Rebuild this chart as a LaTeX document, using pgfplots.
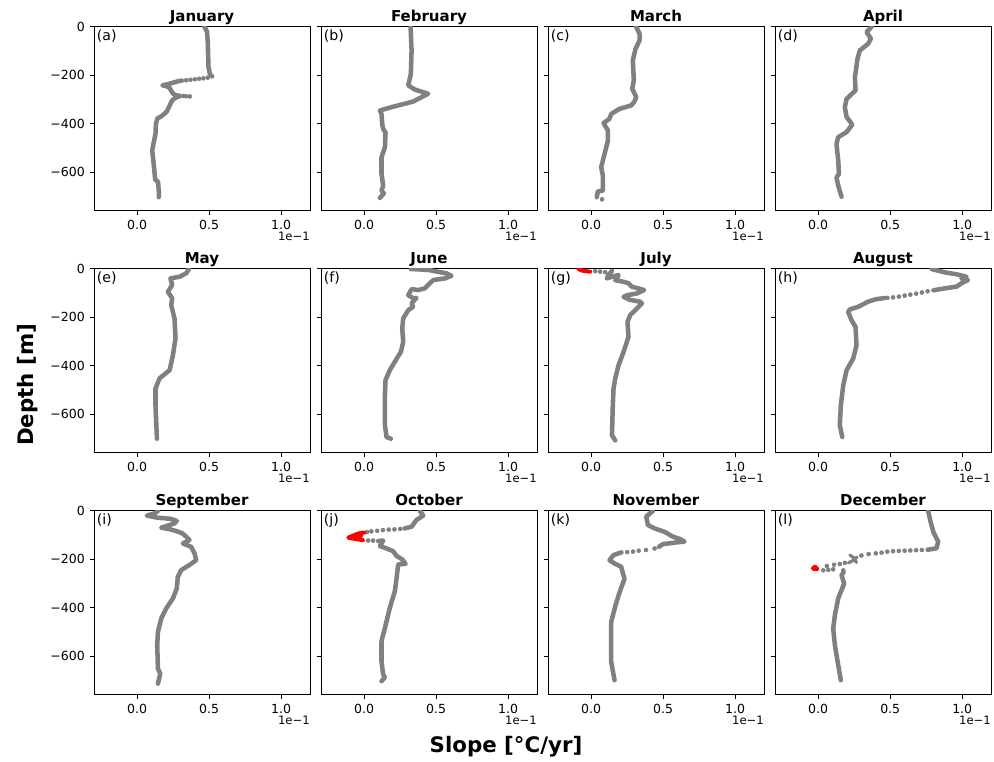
\documentclass[border=0pt]{standalone}
\usepackage{fontspec}
\setmainfont{DejaVu Sans}
\usepackage{pgfplots}
\pgfplotsset{compat=1.18}
\definecolor{mygray}{RGB}{128,128,128}
\pgfplotsset{
  panel/.style={
    scale only axis, width=162pt, height=138pt,
    anchor=north west,
    xmin=-0.3, xmax=1.2, ymin=-760, ymax=0,
    xtick={0,0.5,1}, xticklabels={0.0,0.5,1.0},
    ytick={0,-200,-400,-600},
    yticklabels={0,−200,−400,−600},
    tick align=outside, tick pos=left,
    major tick length=3.3pt,
    every tick/.style={black, line width=0.75pt},
    axis line style={line width=0.75pt},
    tick label style={font=\fontsize{9.4}{11}\selectfont},
    title style={at={(0.5,1)}, anchor=base, yshift=-2.2pt, font=\bfseries\fontsize{11.25}{13}\selectfont},
    clip mode=individual,
  },
  noyl/.style={yticklabels={}},
  plabel/.style={extra description/.code={
    \node[anchor=north west, inner sep=0pt, font=\fontsize{10.6}{12}\selectfont] at (0.012,0.988) {#1};
    \node[anchor=base east, inner sep=0pt, font=\fontsize{8.7}{10}\selectfont] at (1,-0.163) {1e−1};
  }},
  prof/.style={color=mygray, line width=3.4pt, line join=round, line cap=round, mark=none},
  sparse/.style={color=mygray, only marks, mark=*, mark size=1.5pt},
  redp/.style={color=red, line width=3pt, line join=round, line cap=round, mark=none},
}
\begin{document}
\begin{tikzpicture}
\path[use as bounding box] (0,0) rectangle (745.5pt,571.5pt);
% ---------- Row 1 ----------
\begin{axis}[panel, at={(70.5pt,551.25pt)}, title={January}, plabel={(a)}]
\addplot[prof] coordinates {(0.468,0) (0.485,-20) (0.49,-60) (0.495,-165) (0.505,-195) (0.52,-204)};
\addplot[sparse] coordinates {(0.49,-209) (0.46,-212) (0.43,-214) (0.40,-216) (0.37,-218) (0.34,-220) (0.31,-222)};
\addplot[prof] coordinates {(0.30,-222) (0.26,-228) (0.22,-235) (0.175,-241) (0.20,-244) (0.225,-251) (0.235,-262) (0.25,-276) (0.27,-282) (0.30,-285) (0.28,-289) (0.265,-293) (0.243,-303) (0.225,-325) (0.205,-350) (0.17,-368) (0.14,-378) (0.13,-400) (0.127,-441) (0.113,-483) (0.104,-510) (0.11,-540) (0.12,-600) (0.125,-630) (0.145,-640) (0.15,-680) (0.15,-703)};
\addplot[sparse] coordinates {(0.32,-285) (0.34,-286) (0.365,-287)};
\end{axis}
\begin{axis}[panel, noyl, at={(240.75pt,551.25pt)}, title={February}, plabel={(b)}]
\addplot[prof] coordinates {(0.322,0) (0.329,-97) (0.324,-193) (0.306,-241) (0.35,-258) (0.387,-265) (0.444,-276) (0.42,-283) (0.398,-290) (0.34,-308) (0.282,-317) (0.19,-331) (0.109,-345) (0.12,-359) (0.125,-400) (0.132,-421) (0.148,-436) (0.144,-497) (0.12,-538) (0.12,-607) (0.132,-655) (0.12,-676) (0.137,-687) (0.109,-706)};
\end{axis}
\begin{axis}[panel, noyl, at={(411pt,551.25pt)}, title={March}, plabel={(c)}]
\addplot[prof] coordinates {(0.313,0) (0.336,-28) (0.336,-55) (0.308,-90) (0.289,-138) (0.296,-221) (0.285,-255) (0.313,-290) (0.30,-308) (0.278,-324) (0.197,-338) (0.139,-359) (0.127,-379) (0.086,-397) (0.116,-428) (0.116,-469) (0.093,-524) (0.069,-579) (0.081,-614) (0.081,-676) (0.046,-679) (0.039,-703)};
\addplot[sparse] coordinates {(0.076,-712)};
\end{axis}
\begin{axis}[panel, noyl, at={(581.25pt,551.25pt)}, title={April}, plabel={(d)}]
\addplot[prof] coordinates {(0.37,0) (0.336,-21) (0.366,-48) (0.347,-69) (0.289,-97) (0.273,-131) (0.255,-207) (0.259,-262) (0.197,-297) (0.185,-331) (0.197,-372) (0.236,-403) (0.197,-434) (0.139,-455) (0.127,-483) (0.139,-552) (0.144,-607) (0.127,-621) (0.139,-655) (0.162,-701)};
\end{axis}
% ---------- Row 2 ----------
\begin{axis}[panel, at={(70.5pt,369.75pt)}, title={May}, plabel={(e)}]
\addplot[prof] coordinates {(0.359,0) (0.34,-18) (0.294,-32) (0.231,-39) (0.243,-66) (0.213,-94) (0.243,-121) (0.236,-149) (0.259,-204) (0.266,-287) (0.248,-356) (0.225,-418) (0.155,-452) (0.127,-494) (0.127,-563) (0.137,-701)};
\end{axis}
\begin{axis}[panel, noyl, at={(240.75pt,369.75pt)}, title={June}, plabel={(f)}]
\addplot[prof] coordinates {(0.324,0) (0.444,-4) (0.572,-18) (0.606,-28) (0.56,-39) (0.50,-44) (0.479,-46) (0.456,-59) (0.421,-80) (0.375,-87) (0.329,-83) (0.306,-108) (0.34,-121) (0.363,-119) (0.329,-142) (0.34,-156) (0.306,-170) (0.271,-204) (0.264,-245) (0.271,-301) (0.255,-342) (0.213,-383) (0.178,-418) (0.148,-459) (0.144,-521) (0.144,-645) (0.155,-694) (0.185,-701)};
\end{axis}
\begin{axis}[panel, noyl, at={(411pt,369.75pt)}, title={July}, plabel={(g)}]
\addplot[sparse] coordinates {(0.028,-9) (0.062,-11) (0.097,-13)};
\addplot[prof] coordinates {(0.144,-8) (0.12,-25) (0.109,-39) (0.144,-32) (0.19,-25) (0.178,-39) (0.167,-46) (0.225,-53) (0.259,-59) (0.282,-73) (0.368,-87) (0.317,-101) (0.252,-108) (0.225,-115) (0.271,-128) (0.34,-135) (0.352,-142) (0.306,-170) (0.271,-190) (0.252,-218) (0.259,-280) (0.225,-342) (0.19,-397) (0.167,-452) (0.155,-494) (0.15,-563) (0.144,-687) (0.167,-708)};
\addplot[redp] coordinates {(-0.088,0) (-0.07,-5) (-0.053,-8) (-0.007,-11)};
\end{axis}
\begin{axis}[panel, noyl, at={(581.25pt,369.75pt)}, title={August}, plabel={(h)}]
\addplot[prof] coordinates {(0.787,0) (0.88,-14) (0.96,-22) (1.03,-32) (0.995,-39) (1.04,-46) (0.995,-59) (0.96,-73) (0.88,-80) (0.80,-88)};
\addplot[sparse] coordinates {(0.76,-92) (0.72,-97) (0.68,-102) (0.64,-106) (0.60,-110) (0.56,-114) (0.52,-117) (0.48,-119)};
\addplot[prof] coordinates {(0.46,-120) (0.40,-125) (0.347,-135) (0.278,-156) (0.22,-167) (0.208,-177) (0.231,-211) (0.259,-239) (0.266,-315) (0.243,-370) (0.197,-418) (0.174,-480) (0.157,-563) (0.15,-645) (0.167,-694)};
\end{axis}
% ---------- Row 3 ----------
\begin{axis}[panel, at={(70.5pt,188.25pt)}, title={September}, plabel={(i)}]
\addplot[prof] coordinates {(0.144,0) (0.12,-10) (0.067,-19) (0.144,-28) (0.19,-30) (0.236,-33) (0.275,-41) (0.259,-51) (0.225,-58) (0.167,-69) (0.225,-75) (0.271,-83) (0.313,-92) (0.34,-106) (0.363,-120) (0.317,-134) (0.375,-148) (0.398,-175) (0.41,-203) (0.363,-223) (0.306,-244) (0.282,-272) (0.275,-320) (0.248,-361) (0.201,-403) (0.167,-444) (0.144,-499) (0.139,-554) (0.144,-651) (0.16,-672) (0.144,-713)};
\end{axis}
\begin{axis}[panel, noyl, at={(240.75pt,188.25pt)}, title={October}, plabel={(j)}]
\addplot[prof] coordinates {(0.387,0) (0.41,-19) (0.363,-37) (0.329,-65) (0.28,-72)};
\addplot[sparse] coordinates {(0.25,-74) (0.21,-76) (0.17,-77) (0.13,-79) (0.09,-82) (0.05,-84) (0.02,-87) (0.028,-122) (0.062,-122)};
\addplot[redp] coordinates {(0.0,-89) (-0.042,-93) (-0.111,-110) (-0.065,-115) (-0.007,-121) (-0.05,-108) (-0.02,-100)};
\addplot[prof] coordinates {(0.097,-124) (0.132,-122) (0.109,-145) (0.144,-152) (0.201,-166) (0.225,-186) (0.264,-200) (0.287,-218) (0.236,-221) (0.225,-276) (0.213,-331) (0.178,-400) (0.144,-483) (0.12,-538) (0.12,-621) (0.132,-676) (0.144,-687) (0.12,-703)};
\end{axis}
\begin{axis}[panel, noyl, at={(411pt,188.25pt)}, title={November}, plabel={(k)}]
\addplot[prof] coordinates {(0.428,0) (0.382,-23) (0.394,-58) (0.44,-72) (0.509,-86) (0.567,-106) (0.613,-115) (0.648,-126) (0.59,-130) (0.498,-137) (0.47,-148)};
\addplot[sparse] coordinates {(0.44,-155) (0.38,-161) (0.33,-164) (0.29,-168) (0.25,-170)};
\addplot[prof] coordinates {(0.21,-171) (0.155,-182) (0.127,-203) (0.162,-217) (0.208,-230) (0.231,-280) (0.197,-336) (0.169,-389) (0.139,-458) (0.139,-624) (0.162,-699)};
\end{axis}
\begin{axis}[panel, noyl, at={(581.25pt,188.25pt)}, title={December}, plabel={(l)}]
\addplot[prof] coordinates {(0.764,0) (0.78,-44) (0.799,-86) (0.833,-127) (0.822,-154) (0.76,-160)};
\addplot[sparse] coordinates {(0.72,-161) (0.68,-162) (0.64,-163) (0.60,-164) (0.56,-165) (0.52,-166) (0.48,-168) (0.44,-172) (0.40,-175) (0.35,-178) (0.30,-184) (0.185,-214) (0.15,-219) (0.11,-222) (0.06,-227) (0.035,-245) (0.07,-243) (0.104,-241)};
\addplot[prof, line width=2.4pt] coordinates {(0.22,-182) (0.25,-195) (0.265,-213)};
\addplot[prof, line width=2.4pt] coordinates {(0.27,-190) (0.24,-205) (0.21,-214)};
\addplot[redp, line width=3.6pt] coordinates {(-0.02,-232) (-0.035,-237) (-0.01,-239)};
\addplot[prof] coordinates {(0.174,-245) (0.175,-255) (0.162,-265) (0.18,-300) (0.139,-361) (0.116,-430) (0.104,-486) (0.116,-555) (0.139,-637) (0.157,-699)};
\end{axis}
% ---------- global labels ----------
\node[rotate=90, anchor=center, font=\bfseries\fontsize{16}{19}\selectfont] at (21pt,282.75pt) {Depth [m]};
\node[anchor=base, font=\bfseries\fontsize{16}{19}\selectfont] at (379.5pt,6.75pt) {Slope [°C/yr]};
\end{tikzpicture}
\end{document}
